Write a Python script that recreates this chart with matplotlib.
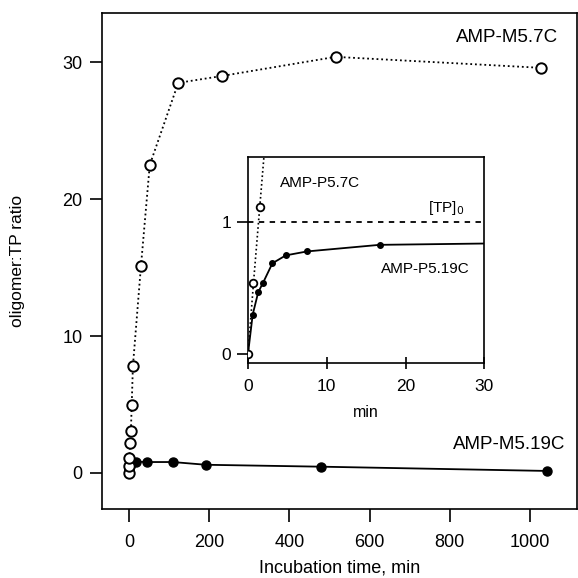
import matplotlib.pyplot as plt

plt.rcParams['font.family'] = ['Liberation Sans', 'DejaVu Sans']

# AMP-M5.7C (open circles), time in min vs oligomer:TP ratio
m57_time = [0, 0.7, 1.5, 3, 5, 7, 10, 30, 52, 123, 231, 515, 1027]
m57_ratio = [0, 0.54, 1.12, 2.2, 3.07, 4.96, 7.8, 15.1, 22.5, 28.5, 29.0, 30.4, 29.6]

# AMP-M5.19C (filled circles)
m519_time = [0, 0.6, 1.3, 1.9, 3.1, 4.8, 7.5, 16.7, 45, 109, 192, 480, 1041]
m519_ratio = [0, 0.30, 0.47, 0.54, 0.69, 0.75, 0.78, 0.83, 0.80, 0.80, 0.60, 0.46, 0.15]

# inset: first 30 min
p57_time = [0, 0.7, 1.5, 3]
p57_ratio = [0, 0.54, 1.12, 2.2]
p519_time = [0, 0.6, 1.3, 1.9, 3.1, 4.8, 7.5, 16.7]
p519_ratio = [0, 0.30, 0.47, 0.54, 0.69, 0.75, 0.78, 0.83]
p519_tail_time = [16.7, 30]
p519_tail_ratio = [0.83, 0.84]
tp0 = 1.0

dots = (0, (1, 1.6))

fig = plt.figure(figsize=(5.78, 5.78), dpi=100)
ax = fig.add_axes([0.1765, 0.1194, 0.8218, 0.858])

ax.plot(m519_time, m519_ratio, '-', color='black', lw=1.3,
        marker='o', ms=6.5, mfc='black', mec='black', zorder=2)
ax.plot(m57_time, m57_ratio, linestyle=dots, color='black', lw=1.3,
        marker='o', ms=7.5, mfc='white', mec='black', mew=1.4, zorder=3)

ax.set_xlim(-67, 1117)
ax.set_ylim(-2.63, 33.6)
ax.set_xticks([0, 200, 400, 600, 800, 1000])
ax.set_yticks([0, 10, 20, 30])
ax.tick_params(direction='out', length=9, width=1.2, labelsize=13)
ax.tick_params(axis='x', pad=9)
ax.tick_params(axis='y', pad=5)
for s in ax.spines.values():
    s.set_linewidth(1.2)

ax.set_xlabel('Incubation time, min', fontsize=13)
ax.set_ylabel('oligomer:TP ratio', fontsize=12.5)
ax.xaxis.set_label_coords(0.5, -0.102)
ax.yaxis.set_label_coords(-0.162, 0.5)

ax.text(1070, 31.8, 'AMP-M5.7C', fontsize=13.5, ha='right', va='center')
ax.text(1089, 2.1, 'AMP-M5.19C', fontsize=13.5, ha='right', va='center')

# inset
ins = fig.add_axes([0.429, 0.3714, 0.409, 0.3576])
ins.axhline(tp0, color='black', lw=1.3, linestyle=(0, (3, 3)), zorder=1)
ins.plot(p519_tail_time, p519_tail_ratio, '-', color='black', lw=1.3, zorder=2)
ins.plot(p519_time, p519_ratio, '-', color='black', lw=1.3,
         marker='o', ms=4, mfc='black', mec='black', zorder=2)
ins.plot(p57_time, p57_ratio, linestyle=dots, color='black', lw=1.2,
         marker='o', ms=5.5, mfc='white', mec='black', mew=1.3, zorder=3)

ins.set_xlim(0, 30)
ins.set_ylim(-0.07, 1.5)
ins.set_xticks([0, 10, 20, 30])
ins.set_yticks([0, 1])
ins.tick_params(axis='y', direction='out', length=8, width=1.2, labelsize=12.5, pad=4)
ins.tick_params(axis='x', direction='inout', length=9, width=1.2, labelsize=12.5, pad=7)
for s in ins.spines.values():
    s.set_linewidth(1.2)
ins.set_xlabel('min', fontsize=11.5)
ins.xaxis.set_label_coords(0.5, -0.2)

ins.text(4.0, 1.30, 'AMP-P5.7C', fontsize=11, ha='left', va='center')
ins.text(16.9, 0.65, 'AMP-P5.19C', fontsize=11, ha='left', va='center')
ins.text(22.8, 1.11, r'[TP]$_0$', fontsize=11, ha='left', va='center')

fig.savefig('out.png', dpi=100)
